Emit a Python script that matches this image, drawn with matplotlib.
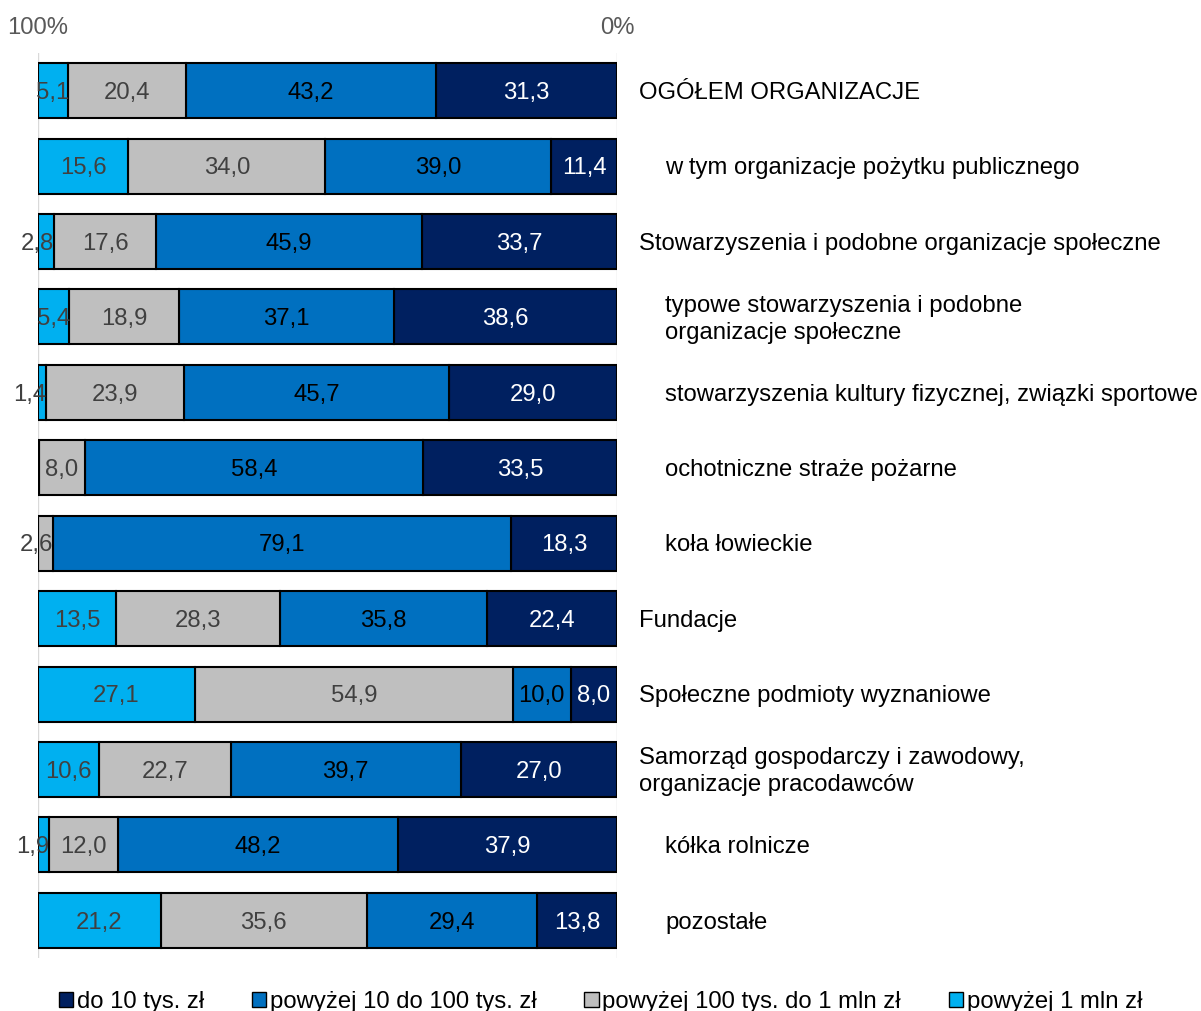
import matplotlib
matplotlib.use("Agg")
import matplotlib.pyplot as plt
from matplotlib.patches import Patch
from matplotlib.transforms import blended_transform_factory

plt.rcParams['font.family'] = ['Liberation Sans', 'DejaVu Sans']

categories = [
    "OGÓŁEM ORGANIZACJE",
    "w tym organizacje pożytku publicznego",
    "Stowarzyszenia i podobne organizacje społeczne",
    "typowe stowarzyszenia i podobne\norganizacje społeczne",
    "stowarzyszenia kultury fizycznej, związki sportowe",
    "ochotniczne straże pożarne",
    "koła łowieckie",
    "Fundacje",
    "Społeczne podmioty wyznaniowe",
    "Samorząd gospodarczy i zawodowy,\norganizacje pracodawców",
    "kółka rolnicze",
    "pozostałe",
]
indented = [False, True, False, True, True, True, True, False, False, False, True, True]

series_names = ["do 10 tys. zł", "powyżej 10 do 100 tys. zł",
                "powyżej 100 tys. do 1 mln zł", "powyżej 1 mln zł"]
do_10 = [31.3, 11.4, 33.7, 38.6, 29.0, 33.5, 18.3, 22.4, 8.0, 27.0, 37.9, 13.8]
od_10_do_100 = [43.2, 39.0, 45.9, 37.1, 45.7, 58.4, 79.1, 35.8, 10.0, 39.7, 48.2, 29.4]
od_100_do_1mln = [20.4, 34.0, 17.6, 18.9, 23.9, 8.0, 2.6, 28.3, 54.9, 22.7, 12.0, 35.6]
pow_1mln = [5.1, 15.6, 2.8, 5.4, 1.4, 0.0, 0.0, 13.5, 27.1, 10.6, 1.9, 21.2]
tick_labels = ["100%", "0%"]

colors = ["#002060", "#0070C0", "#BFBFBF", "#00B0F0"]
label_colors = ["white", "black", "#404040", "#404040"]
FS = 17.2

fig = plt.figure(figsize=(12.01, 10.11), dpi=100)
ax = fig.add_axes([38/1201, 1 - 958/1011, 579/1201, 905/1011])

series = [do_10, od_10_do_100, od_100_do_1mln, pow_1mln]
y = list(range(len(categories)))
left = [0.0] * len(categories)
for s, vals in enumerate(series):
    ax.barh(y, vals, left=left, height=0.73, color=colors[s],
            edgecolor="black", linewidth=1.5, zorder=3)
    for i, v in enumerate(vals):
        if v <= 0:
            continue
        txt = f"{v:.1f}".replace(".", ",")
        if v < 3:
            ax.text(left[i], i + 0.03, txt, ha="right", va="center",
                    fontsize=FS, color=label_colors[s], zorder=4)
        else:
            ax.text(left[i] + v / 2, i + 0.03, txt, ha="center", va="center",
                    fontsize=FS, color=label_colors[s], zorder=4)
    left = [l + v for l, v in zip(left, vals)]

ax.set_xlim(100, 0)
ax.set_ylim(len(categories) - 0.5, -0.5)
ax.set_xticks([100, 0])
ax.set_xticklabels(tick_labels)
ax.xaxis.tick_top()
ax.tick_params(axis="x", length=0, labelsize=FS, labelcolor="#595959", pad=10)
ax.set_yticks([])
for sp in ax.spines.values():
    sp.set_visible(False)
ax.grid(axis="x", color="#D9D9D9", linewidth=1, zorder=0)
ax.set_axisbelow(True)

trans = blended_transform_factory(fig.transFigure, ax.transData)
for i, (cat, ind) in enumerate(zip(categories, indented)):
    xpix = 665 if ind else 639
    ax.text(xpix / 1201, i + 0.03, cat, transform=trans,
            ha="left", va="center", fontsize=FS, color="black", linespacing=1.3)

handles = [Patch(facecolor=c, edgecolor="black", linewidth=1) for c in colors]
fig.legend(handles, series_names, loc="center", bbox_to_anchor=(0.5, 0.009),
           ncol=4, frameon=False, fontsize=FS, handlelength=0.6, handleheight=0.6,
           handletextpad=0.15, columnspacing=2.0, borderpad=0)

fig.savefig("out.png", dpi=100)
